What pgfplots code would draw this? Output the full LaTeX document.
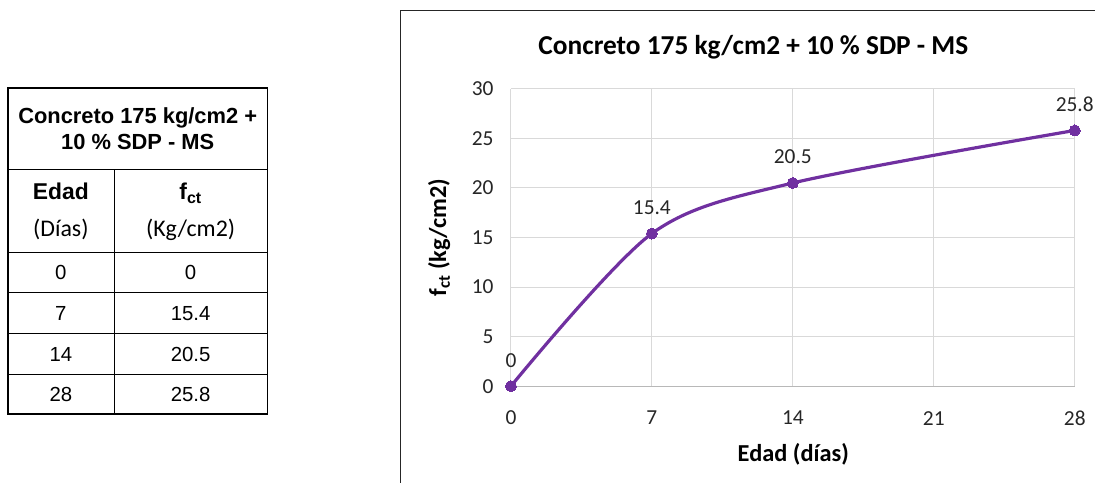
\documentclass[border=0pt]{standalone}
\usepackage{pgfplots}
\pgfplotsset{compat=1.18}
\usepackage{fontspec}
\setmainfont{Carlito}
\newfontfamily\arial{Liberation Sans}
\definecolor{serie}{HTML}{7030A0}
\definecolor{gridc}{HTML}{D9D9D9}
\begin{document}
\begin{tikzpicture}
\begin{scope}[x=1bp,y=1bp]
\path[use as bounding box] (0,0) rectangle (1097,-484);
% ---- table ----
\begin{scope}[line width=1.4bp]
\draw (8,-88) rectangle (268,-415);
\foreach \yy in {170,253,293,334,375} \draw (8,-\yy) -- (268,-\yy);
\draw (115,-170) -- (115,-415);
\end{scope}
\node[font=\arial\bfseries\fontsize{22}{27}\selectfont,align=center] at (138,-129) {Concreto 175 kg/cm2 +\\10 \% SDP - MS};
\node[font=\arial\bfseries\fontsize{23}{26}\selectfont] at (61,-192) {Edad};
\node[font=\fontsize{24}{27}\selectfont] at (61,-230) {(Días)};
\node[font=\arial\bfseries\fontsize{23}{26}\selectfont] at (191,-194) {f\textsubscript{ct}};
\node[font=\fontsize{24}{27}\selectfont] at (191,-230) {(Kg/cm2)};
\foreach \a/\b/\yy in {0/0/273,7/15.4/314,14/20.5/355,28/25.8/395}{
  \node[font=\arial\fontsize{20.5}{23}\selectfont] at (61,-\yy) {\a};
  \node[font=\arial\fontsize{20.5}{23}\selectfont] at (191,-\yy) {\b};
}
% ---- chart frame ----
\draw[line width=1bp,black!85] (401,-484) -- (401,-11) -- (1097,-11);
\node[font=\bfseries\fontsize{27.5}{32}\selectfont] at (755,-47) {Concreto 175 kg/cm2 + 10 \% SDP - MS};
\node[font=\bfseries\fontsize{24.5}{28}\selectfont] at (795,-455) {Edad (días)};
\node[font=\bfseries\fontsize{24.5}{28}\selectfont,rotate=90] at (440,-238) {f\textsubscript{ct} (kg/cm2)};
\end{scope}
\begin{axis}[
  scale only axis, width=565bp, height=298bp,
  at={(512bp,-387bp)}, anchor=south west,
  xmin=0, xmax=28, ymin=0, ymax=30,
  xtick={0,7,14,21,28}, ytick={0,5,...,30},
  grid=major, grid style={gridc, line width=1bp},
  axis line style={draw=none},
  major tick length=0pt,
  /pgf/number format/assume math mode=true,
  tick label style={font=\fontsize{21.5}{24}\selectfont, text=black!85},
  xticklabel style={anchor=center, yshift=-32bp},
  yticklabel style={anchor=east, xshift=-14bp},
  clip=false,
  nodes near coords,
  every node near coord/.append style={font=\fontsize{21.5}{24}\selectfont, anchor=center, yshift=26bp, text=black!85},
  point meta=explicit symbolic,
]
\draw[color=gridc!85!black, line width=1bp] (axis cs:0,0) -- (axis cs:28,0);
\addplot[serie, line width=3.2bp, smooth, mark=*, mark size=5.5bp, mark options={fill=serie, line width=0pt}]
  table[meta=lab] {
x y lab
0 0 0
7 15.4 15.4
14 20.5 20.5
28 25.8 25.8
};
\end{axis}
\end{tikzpicture}
\end{document}
